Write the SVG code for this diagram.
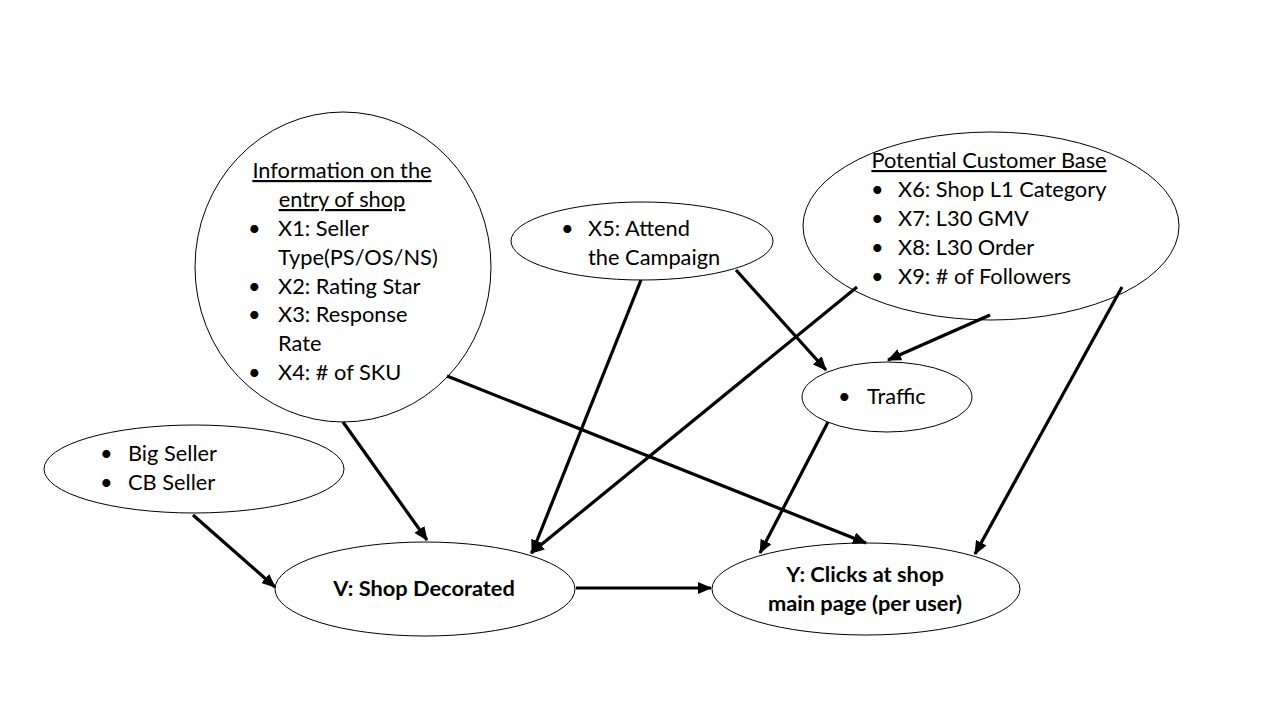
<svg xmlns="http://www.w3.org/2000/svg" width="1280" height="720" viewBox="0 0 1280 720">
<defs>
<marker id="ah" viewBox="0 0 14 12" refX="13" refY="6" markerWidth="14" markerHeight="12" markerUnits="userSpaceOnUse" orient="auto">
<path d="M0,0 L14,6 L0,12 Z" fill="#000"/>
</marker>
<style>
.n{fill:#fff;stroke:#000;stroke-width:1}
.t{font-family:Lato,"Open Sans","Liberation Sans",sans-serif;font-size:21.8px;fill:#000}
.b{font-weight:bold}
.u{text-decoration:underline}
.c{stroke:#000;stroke-width:3.2;fill:none;marker-end:url(#ah)}
</style>
</defs>
<rect width="1280" height="720" fill="#fff"/>
<g id="n-info">
<ellipse class="n" cx="343" cy="267" rx="148" ry="155"/>
<text class="t u" x="342" y="178" text-anchor="middle">Information on the</text>
<text class="t u" x="342" y="207" text-anchor="middle">entry of shop</text>
<text class="t" x="248" y="236">•</text><text class="t" x="278" y="236">X1: Seller</text>
<text class="t" x="278" y="265">Type(PS/OS/NS)</text>
<text class="t" x="248" y="294">•</text><text class="t" x="278" y="294">X2: Rating Star</text>
<text class="t" x="248" y="322">•</text><text class="t" x="278" y="322">X3: Response</text>
<text class="t" x="278" y="351">Rate</text>
<text class="t" x="248" y="380">•</text><text class="t" x="278" y="380">X4: # of SKU</text>
</g>
<g id="n-x5">
<ellipse class="n" cx="642" cy="241" rx="131" ry="39"/>
<text class="t" x="561" y="236">•</text><text class="t" x="588" y="236">X5: Attend</text>
<text class="t" x="588" y="265">the Campaign</text>
</g>
<g id="n-pcb">
<ellipse class="n" cx="991" cy="226" rx="188" ry="94"/>
<text class="t u" x="989" y="168" text-anchor="middle">Potential Customer Base</text>
<text class="t" x="871" y="197">•</text><text class="t" x="898" y="197">X6: Shop L1 Category</text>
<text class="t" x="871" y="226">•</text><text class="t" x="898" y="226">X7: L30 GMV</text>
<text class="t" x="871" y="255">•</text><text class="t" x="898" y="255">X8: L30 Order</text>
<text class="t" x="871" y="284">•</text><text class="t" x="898" y="284">X9: # of Followers</text>
</g>
<g id="n-traffic">
<ellipse class="n" cx="887" cy="397" rx="85" ry="35"/>
<text class="t" x="838" y="404">•</text><text class="t" x="867" y="404">Traffic</text>
</g>
<g id="n-seller">
<ellipse class="n" cx="194" cy="469" rx="150" ry="44"/>
<text class="t" x="100" y="461">•</text><text class="t" x="128" y="461">Big Seller</text>
<text class="t" x="100" y="490">•</text><text class="t" x="128" y="490">CB Seller</text>
</g>
<g id="n-v">
<ellipse class="n" cx="425" cy="589" rx="150" ry="47"/>
<text class="t b" x="424" y="596" text-anchor="middle">V: Shop Decorated</text>
</g>
<g id="n-y">
<ellipse class="n" cx="866" cy="589" rx="154" ry="46"/>
<text class="t b" x="865" y="582" text-anchor="middle">Y: Clicks at shop</text>
<text class="t b" x="865" y="611" text-anchor="middle">main page (per user)</text>
</g>
<g id="connectors">
<line class="c" x1="343" y1="422" x2="427" y2="540"/>
<line class="c" x1="193" y1="515" x2="275" y2="587"/>
<line class="c" x1="641" y1="280" x2="532" y2="553"/>
<line class="c" x1="857" y1="287" x2="531" y2="553"/>
<line class="c" x1="736" y1="270" x2="826" y2="370"/>
<line class="c" x1="990" y1="315" x2="888" y2="360"/>
<line class="c" x1="828" y1="422" x2="760" y2="553"/>
<line class="c" x1="447" y1="376" x2="866" y2="543"/>
<line class="c" x1="1122" y1="287" x2="975" y2="554"/>
<line class="c" x1="576" y1="588" x2="711" y2="588"/>
</g>
</svg>
